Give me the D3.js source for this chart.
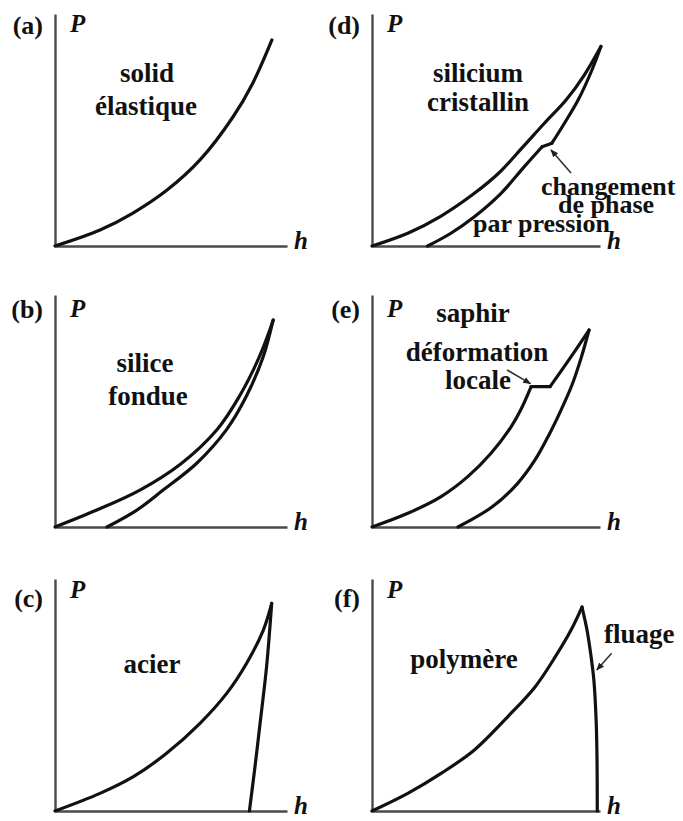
<!DOCTYPE html>
<html>
<head>
<meta charset="utf-8">
<script src="https://cdn.jsdelivr.net/npm/d3@7"></script>
<style>
  body { margin: 0; background: #fff; }
  svg { display: block; }
</style>
</head>
<body>
<svg id="chart"></svg>
<script>
var width = 683;
var height = 821;
var serif = "'Liberation Serif', 'DejaVu Serif', 'Times New Roman', Times, serif";

// load / unload curves, h and P in % of the axis length
var aLoad = [[0,0],[19.4,6.9],[33.6,14.2],[48.3,24.1],[62.5,37.1],[76.7,55.6],[85.3,70.3],[93.5,88.8]];
var bLoad = [[0,0],[18.0,7.3],[36.6,15.9],[54.6,27.5],[69.7,41.8],[79.4,56.2],[88.1,73.4],[94.1,89.2]];
var bUnload = [[94.0,89.2],[89.7,73.3],[82.3,56.0],[74.1,42.2],[61.2,27.6],[46.6,15.9],[35.3,7.3],[22.4,0]];
var cLoad = [[0,0],[19.4,7.6],[33.8,14.8],[48.1,24.9],[62.5,37.8],[74.0,50.7],[82.6,63.7],[89.8,78.0],[93.4,89.5]];
var cUnload = [[93.4,89.5],[91.2,62.2],[88.4,37.8],[86.2,19.1],[83.8,0]];
var dLoad = [[0,0],[15.7,5.5],[30.3,12.9],[44.9,22.7],[56.1,31.9],[66.2,42.7],[75.6,52.9],[85.1,62.9],[93.1,73.7],[100.4,86.0]];
var dUnloadTop = [[100.4,86.0],[96.1,75.0],[90.4,62.9],[84.2,52.6],[78.9,44.3]];
var dShelf = [[78.9,44.3],[74.6,42.8]];
var dUnloadLow = [[74.6,42.8],[66.8,34.2],[56.6,22.7],[44.9,12.6],[34.6,5.5],[24.4,0]];
var eLoadLow = [[0,0],[15.7,5.9],[30.3,13.1],[42.0,21.7],[52.2,31.8],[61.0,43.2],[65.2,50.4],[69.8,60.5]];
var eShelf = [[69.8,60.5],[78.1,60.5]];
var eLoadTop = [[78.1,60.5],[86.8,72.7],[95.2,84.9]];
var eUnload = [[95.2,84.9],[91.7,72.8],[87.7,61.2],[82.9,50.4],[77.6,39.7],[71.5,28.9],[63.6,18.5],[52.6,8.6],[37.7,0]];
var fLoad = [[0,0],[15.7,7.6],[30.3,16.2],[44.9,26.3],[59.5,40.6],[71.6,53.6],[80.4,66.5],[87.3,78.0],[92.1,87.9]];
var fUnload = [[92.1,87.9],[94.3,78.0],[96.0,67.2],[97.3,56.5],[98.3,39.2],[98.7,22.0],[98.8,0]];

var panelLetters = ['(a)','(b)','(c)','(d)','(e)','(f)'];
var materials = [['solid','élastique'],['silice','fondue'],['acier'],['silicium','cristallin'],['saphir'],['polymère']];

// annotation arrows [from, to] in the same units
var dArrow = [[87.3,31.5],[78.5,41.4]];
var eArrow = [[59.2,67.7],[69.5,61.8]];
var fArrow = [[105.1,68.0],[98.6,60.8]];

var colX0 = [55, 372];
var colLen = [232, 228];
var rowY0 = [246, 527, 811];
var axisH = 232;
var letterBase = [34, 318, 607];
var pBase = [32, 317, 598];

var panels = [
  {curves: [aLoad], arrow: null, mat: [[92,-164],[91,-131]]},
  {curves: [bLoad, bUnload], arrow: null, mat: [[90,-155],[93,-122]]},
  {curves: [cLoad, cUnload], arrow: null, mat: [[97,-138]]},
  {curves: [dLoad, dUnloadTop, dShelf, dUnloadLow], arrow: dArrow, mat: [[106,-164],[106,-135]],
   notes: [['changement',169,-51,26],['de phase',186,-33,26],['par pression',101,-14,26]]},
  {curves: [eLoadLow, eShelf, eLoadTop, eUnload], arrow: eArrow, mat: [[101,-205]],
   notes: [['déformation',105,-166,27,'middle'],['locale',106,-138,27,'middle']]},
  {curves: [fLoad, fUnload], arrow: fArrow, mat: [[92,-143]],
   notes: [['fluage',232,-168,27]]}
];

var svg = d3.select('#chart')
    .attr('width', width)
    .attr('height', height)
    .attr('font-family', serif)
    .attr('font-weight', 'bold');

svg.append('rect').attr('width', width).attr('height', height).attr('fill', '#fff');

svg.append('defs').append('marker')
    .attr('id', 'head')
    .attr('viewBox', '0 0 10 10')
    .attr('refX', 9).attr('refY', 5)
    .attr('markerWidth', 5).attr('markerHeight', 5)
    .attr('orient', 'auto')
  .append('path')
    .attr('d', 'M0,1 L10,5 L0,9 Z')
    .attr('fill', '#222');

function label(g, x, y, t, size, anchor, italic) {
  g.append('text')
      .attr('x', x)
      .attr('y', y)
      .attr('font-family', serif)
      .attr('font-weight', 'bold')
      .attr('font-style', italic ? 'italic' : 'normal')
      .attr('font-size', size)
      .attr('fill', '#111')
      .style('text-anchor', anchor)
      .text(t);
}

panels.forEach(function(p, i) {
  var col = i < 3 ? 0 : 1;
  var row = i % 3;
  var x0 = colX0[col], y0 = rowY0[row];

  var xScale = d3.scaleLinear().domain([0, 100]).range([x0, x0 + colLen[col]]);
  var yScale = d3.scaleLinear().domain([0, 100]).range([y0, y0 - axisH]);

  var g = svg.append('g');

  g.append('g')
      .attr('transform', 'translate(0,' + y0 + ')')
      .call(d3.axisBottom(xScale).tickValues([]).tickSizeOuter(0));
  g.append('g')
      .attr('transform', 'translate(' + x0 + ',0)')
      .call(d3.axisLeft(yScale).tickValues([]).tickSizeOuter(0));
  g.selectAll('.domain')
      .attr('stroke', '#4a4a4a')
      .attr('stroke-width', 2.4);

  var line = d3.line()
      .x(d => xScale(d[0]))
      .y(d => yScale(d[1]))
      .curve(d3.curveCatmullRom.alpha(0.5));

  g.selectAll('path.curve')
      .data(p.curves)
      .enter()
    .append('path')
      .attr('class', 'curve')
      .attr('d', line)
      .attr('fill', 'none')
      .attr('stroke', '#111')
      .attr('stroke-width', 3.2)
      .attr('stroke-linecap', 'round')
      .attr('stroke-linejoin', 'round');

  if (p.arrow) {
    g.append('line')
        .attr('x1', xScale(p.arrow[0][0])).attr('y1', yScale(p.arrow[0][1]))
        .attr('x2', xScale(p.arrow[1][0])).attr('y2', yScale(p.arrow[1][1]))
        .attr('stroke', '#333')
        .attr('stroke-width', 1.6)
        .attr('marker-end', 'url(#head)');
  }

  label(g, x0 - 12, letterBase[row], panelLetters[i], 26, 'end', false);
  label(g, x0 + 15, pBase[row], 'P', 25, 'start', true);
  label(g, xScale(100) + 7, y0 + 3, 'h', 25, 'start', true);

  materials[i].forEach(function(t, k) {
    label(g, x0 + p.mat[k][0], y0 + p.mat[k][1], t, 27, 'middle', false);
  });

  (p.notes || []).forEach(function(n) {
    label(g, x0 + n[1], y0 + n[2], n[0], n[3], n[4] || 'start', false);
  });
});
</script>
</body>
</html>
